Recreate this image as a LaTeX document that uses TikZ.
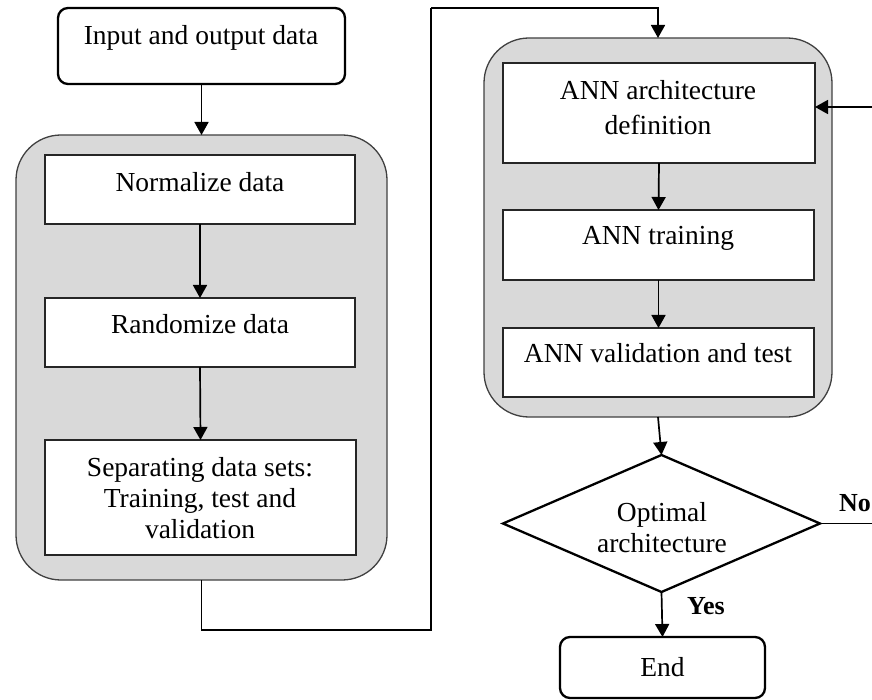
\documentclass[tikz,border=0pt]{standalone}
\usepackage{fontspec}
\setmainfont{Liberation Serif}
\usetikzlibrary{arrows.meta,shapes.geometric}

\definecolor{groupfill}{HTML}{D9D9D9}
\definecolor{groupline}{HTML}{404040}

\tikzset{
  txt/.style={font=\fontsize{27.5}{31}\selectfont, align=center, inner sep=0pt},
  lbl/.style={font=\fontsize{26}{30}\selectfont\bfseries, inner sep=0pt},
  termbox/.style={draw=black, line width=2.3pt, rounded corners=10pt, fill=white,
    inner sep=0pt, outer sep=0pt, anchor=north west},
  group/.style={draw=groupline, line width=1.3pt, fill=groupfill, rounded corners=45pt,
    inner sep=0pt, outer sep=0pt, anchor=north west},
  stepbox/.style={draw=black!85, line width=1.3pt, fill=white,
    inner sep=0pt, outer sep=0pt, anchor=north west},
  decision/.style={diamond, draw=black, line width=2.3pt, fill=white,
    inner sep=0pt, outer sep=0pt},
  arr/.style={draw=black, line width=1.7pt, -{Triangle[length=13pt,width=14pt]}},
  link/.style={draw=black, line width=1.7pt}
}

\begin{document}
\begin{tikzpicture}[x=1pt, y=-1pt]
  \useasboundingbox (0,0) rectangle (872,700);

  % start terminal
  \node[termbox, minimum width=287pt, minimum height=76pt] (inp) at (58,8) {};
  \node[txt] (inpT) at (201,38) {Input and output data};

  % data preparation group
  \node[group, minimum width=371pt, minimum height=445pt] (lgrp) at (16,135) {};
  \node[stepbox, minimum width=310pt, minimum height=69pt] (norm) at (45,155) {};
  \node[txt] (normT) at (200,182) {Normalize data};
  \node[stepbox, minimum width=310pt, minimum height=69pt] (rand) at (45,298) {};
  \node[txt] (randT) at (200,324) {Randomize data};
  \node[stepbox, minimum width=311pt, minimum height=115pt] (sep) at (45,440) {};
  \node[txt] (sepT) at (200,498) {Separating data sets:\\Training, test and\\validation};

  % network design group
  \node[group, minimum width=348pt, minimum height=379pt] (rgrp) at (484,38) {};
  \node[stepbox, minimum width=312pt, minimum height=100pt] (arch) at (503,63) {};
  \node[txt, font=\fontsize{27.5}{35}\selectfont] (archT) at (658,108) {ANN architecture\\definition};
  \node[stepbox, minimum width=311pt, minimum height=70pt] (train) at (503,210) {};
  \node[txt] (trainT) at (658,238) {ANN training};
  \node[stepbox, minimum width=311pt, minimum height=69pt] (valid) at (503,328) {};
  \node[txt] (validT) at (658,353) {ANN validation and test};

  % decision and end
  \node[decision, minimum width=317pt, minimum height=137pt] (dia) at (661.5,523.5) {};
  \node[txt] (diaT) at (662,528) {Optimal\\architecture};
  \node[termbox, minimum width=205pt, minimum height=61pt] (fin) at (560,637) {};
  \node[txt] (finT) at (662.5,667) {End};

  % connectors
  \draw[arr] (inp.south) -- (inp.south |- lgrp.north);
  \draw[arr] (norm.south) -- (rand.north);
  \draw[arr] (rand.south) -- (sep.north);

  \coordinate (dropL) at (431,630);
  \coordinate (riseL) at (431,8);
  \draw[link] (lgrp.south) |- (dropL) -- (riseL);
  \draw[arr] (riseL) -| (rgrp.north);

  \draw[arr] (arch.south) -- (train.north);
  \draw[arr] (train.south) -- (valid.north);
  \draw[arr] (rgrp.south) -- (dia.north);
  \draw[arr] (dia.south) -- (fin.north);
  \node[lbl] (yesL) at (706,606) {Yes};

  \coordinate (noEnd) at (872,523.5);
  \draw[link] (dia.east) -- (noEnd);
  \node[lbl] (noL) at (855,503) {No};

  \coordinate (backIn) at (872,107);
  \draw[arr] (backIn) -- (backIn -| arch.east);
\end{tikzpicture}
\end{document}
